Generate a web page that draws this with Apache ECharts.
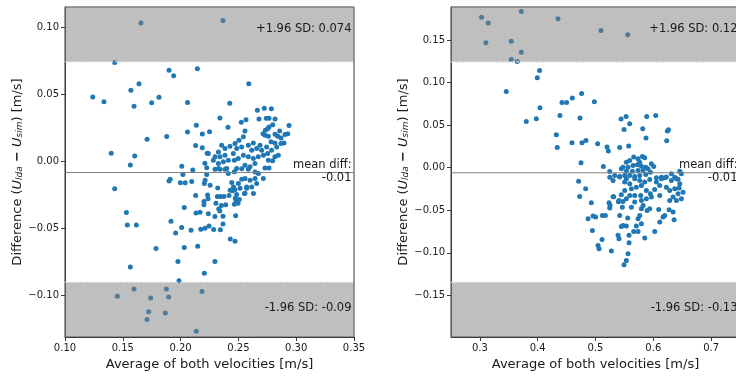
<!DOCTYPE html>
<html><head><meta charset="utf-8">
<script src="https://cdn.jsdelivr.net/npm/echarts@6/dist/echarts.min.js"></script>
<style>html,body{margin:0;padding:0;background:#fff}#c{width:736px;height:376px}</style>
</head><body><div id="c"></div>
<script>
// ---------- data ----------
const leftPoints = [
[0.1657,0.103],[0.2367,0.105],[0.143,0.0737],[0.190,0.0678],[0.194,0.0638],[0.2145,0.069],[0.259,0.0578],[0.124,0.048],[0.1337,0.0444],[0.157,0.053],[0.164,0.0578],[0.1597,0.041],[0.175,0.0437],[0.1813,0.0477],[0.206,0.0439],[0.2425,0.0432],[0.234,0.0323],[0.241,0.0253],[0.171,0.0164],[0.188,0.0184],[0.206,0.0218],[0.2136,0.0268],[0.2188,0.0203],[0.225,0.022],[0.140,0.006],[0.1603,0.004],[0.1565,-0.0027],[0.213,0.0117],[0.221,-0.0015],[0.223,0.006],[0.201,-0.0037],[0.202,-0.0099],[0.2105,-0.0065],[0.191,-0.0134],[0.19,-0.0147],[0.143,-0.0205],[0.1998,-0.0161],[0.204,-0.016],[0.2096,-0.015],[0.2205,-0.0166],
[0.2664,0.038],[0.2724,0.0395],[0.2785,0.0392],[0.2678,0.0315],[0.2741,0.032],[0.2765,0.032],[0.2817,0.0315],[0.2525,0.029],[0.2566,0.031],[0.2938,0.0266],[0.2797,0.0273],[0.2765,0.0255],[0.2753,0.0243],[0.2733,0.0231],[0.2713,0.0206],[0.273,0.0194],[0.2759,0.0186],[0.2817,0.0201],[0.284,0.0186],[0.2869,0.0174],[0.2903,0.0199],[0.2927,0.0206],[0.2857,0.0226],
[0.2557,0.0226],[0.2543,0.0182],[0.2505,0.0157],[0.2471,0.0132],[0.2427,0.0112],[0.2384,0.0095],[0.2355,0.012],[0.2327,0.007],[0.2298,0.0033],[0.2341,0.0033],[0.2384,0.0045],[0.2456,0.0058],[0.2485,0.0095],[0.2528,0.0107],[0.2586,0.012],[0.2629,0.0137],[0.2615,0.0083],[0.2658,0.0095],[0.2687,0.012],[0.2701,0.0083],[0.2744,0.0107],[0.2782,0.0145],[0.2816,0.0137],[0.2831,0.0107],[0.2868,0.0132],[0.2894,0.0137],[0.2787,0.0083],[0.2753,0.0058],[0.2716,0.0045],[0.2672,0.0033],[0.2629,0.0021],[0.2586,0.0033],[0.2543,0.0045],[0.2499,0.0021],[0.2465,0.0008],[0.2413,0.0008],[0.237,-0.0004],[0.2327,-0.0017],[0.2283,0.0008],[0.224,0.0058],[0.2188,0.01],[0.2226,-0.0049],[0.2327,-0.0054],[0.2399,-0.0054],[0.2485,-0.0054],[0.2557,-0.0029],[0.26,-0.0041],[0.2643,-0.0017],[0.2759,0.0008],[0.2796,0.0003],[0.2816,0.0033],[0.2845,0.0045],
[0.2226,-0.0099],[0.2212,-0.0142],[0.2255,-0.0179],[0.2321,-0.0199],[0.2298,-0.006],[0.2341,-0.006],[0.2384,-0.006],[0.2413,-0.0092],[0.2465,-0.0079],[0.2442,-0.0159],[0.2457,-0.0191],[0.2428,-0.0216],[0.2485,-0.0248],[0.25,-0.0166],[0.2529,-0.0134],[0.2558,-0.0129],[0.2601,-0.0142],[0.2644,-0.0129],[0.2658,-0.0166],[0.2673,-0.0092],[0.2716,-0.0129],[0.273,-0.005],[0.2765,-0.005],[0.2572,-0.0191],[0.2615,-0.0191],[0.263,-0.024],[0.2552,-0.024],[0.2644,-0.008],[0.2586,-0.006],[0.2529,-0.0055],
[0.213,-0.0255],[0.2234,-0.0251],[0.2202,-0.03],[0.2237,-0.028],[0.2202,-0.0325],[0.2318,-0.0263],[0.2344,-0.0263],[0.2375,-0.0263],[0.2419,-0.0255],[0.2448,-0.022],[0.247,-0.0213],[0.2514,-0.0201],[0.2571,-0.0201],[0.2557,-0.0238],[0.2473,-0.0276],[0.248,-0.0295],[0.2497,-0.0313],[0.2508,-0.0285],[0.2465,-0.032],[0.2306,-0.0313],[0.2353,-0.033],[0.233,-0.0355],[0.2339,-0.037],[0.239,-0.0325],[0.2297,-0.0412],[0.2367,-0.041],[0.2476,-0.0407],[0.224,-0.0392],[0.2168,-0.038],[0.2133,-0.0385],[0.2032,-0.0345],[0.1917,-0.0447],[0.2009,-0.0494],[0.1957,-0.0534],[0.209,-0.0514],[0.2174,-0.0506],[0.2211,-0.05],[0.2246,-0.0482],[0.2286,-0.0509],[0.2344,-0.0511],[0.2367,-0.0467],[0.243,-0.058],[0.2471,-0.0596],[0.1531,-0.0382],[0.1539,-0.0476],[0.1617,-0.0476],[0.1787,-0.065],[0.2032,-0.0643],[0.2148,-0.0633],[0.1977,-0.0747],[0.2297,-0.0747],[0.1565,-0.0789],[0.1986,-0.089],[0.2205,-0.0834],[0.1597,-0.0953],[0.1877,-0.0953],[0.1453,-0.1007],[0.1741,-0.102],[0.1897,-0.1012],[0.2185,-0.097],[0.1724,-0.1122],[0.1868,-0.1132],[0.1709,-0.1179],[0.2136,-0.1268]
];
const rightPoints = [
[0.3029,0.177],[0.3144,0.1703],[0.3104,0.1469],[0.3716,0.1837],[0.4351,0.1751],[0.5095,0.1614],[0.5557,0.1563],[0.3543,0.1488],[0.3716,0.1359],[0.3543,0.1273],[0.3646,0.125],[0.4033,0.1144],[0.3993,0.1058],[0.3456,0.0897],[0.3802,0.0544],[0.3976,0.0576],[0.4039,0.0705],[0.442,0.0768],[0.45,0.0768],[0.4599,0.0819],[0.476,0.0873],[0.498,0.0776],[0.4385,0.0615],[0.4732,0.0584],[0.4322,0.0388],[0.4339,0.0239],[0.4593,0.0294],[0.4766,0.0294],[0.4835,0.0321],[0.5037,0.0282],[0.5199,0.0243],[0.5222,0.0196],[0.5418,0.0239],[0.5574,0.0255],[0.5442,0.0572],[0.5529,0.0603],[0.5592,0.0517],[0.5494,0.045],[0.5817,0.0458],[0.5886,0.0603],[0.6042,0.0615],[0.5874,0.0349],[0.6244,0.0431],[0.6262,0.0447],[0.6232,0.0317],[0.4749,0.0059],[0.5136,0.0016],[0.4708,-0.016],
[0.5661,0.0125],[0.5736,0.0105],[0.5811,0.0132],[0.5851,0.0117],[0.5765,0.0066],[0.5592,0.0085],[0.5534,0.0066],[0.5476,0.0007],[0.5563,0.0007],[0.5649,0.0027],[0.5724,0.0034],[0.5794,0.0019],[0.5869,0.0007],[0.5967,0.0046],[0.6007,0.0015],[0.5909,-0.0013],[0.5823,-0.0032],[0.5736,-0.0032],[0.5638,-0.004],[0.5534,-0.004],[0.5447,-0.0013],[0.5246,-0.0044],[0.5332,-0.0091],[0.5419,-0.0103],[0.5505,-0.0091],[0.5592,-0.0091],[0.5678,-0.0103],[0.5765,-0.0091],[0.5869,-0.0079],[0.5949,-0.0052],[0.614,-0.0111],[0.6197,-0.0118],[0.6313,-0.0071],[0.6371,-0.0111],[0.6457,-0.004],[0.6486,-0.0071],[0.6428,-0.0134],[0.6053,-0.0118],[0.5246,-0.0111],[0.5534,-0.013],
[0.483,-0.0247],[0.4726,-0.0337],[0.4928,-0.0412],[0.4871,-0.06],[0.4957,-0.0568],[0.5003,-0.058],[0.5119,-0.0561],[0.5171,-0.0561],[0.4946,-0.0737],[0.5113,-0.0843],[0.5044,-0.0913],[0.5061,-0.0952],[0.5275,-0.098],[0.5304,-0.034],[0.5234,-0.0412],[0.5246,-0.0474],[0.539,-0.0795],[0.5407,-0.0835],[0.5419,-0.0561],[0.5465,-0.0463],[0.5407,-0.0384],[0.5476,-0.0396],[0.5557,-0.0592],[0.5534,-0.0686],[0.5476,-0.0678],[0.5447,-0.069],[0.558,-0.0795],[0.558,-0.0882],[0.5563,-0.1011],[0.5534,-0.109],[0.5494,-0.1141],[0.5661,-0.0749],[0.5736,-0.0749],[0.5794,-0.0658],[0.5736,-0.06],[0.5765,-0.0561],[0.5707,-0.0686],[0.5852,-0.0827],[0.6025,-0.0749],[0.5794,-0.0482],[0.5823,-0.0443],[0.5892,-0.0502],[0.5938,-0.0482],[0.6094,-0.049],[0.6112,-0.0639],[0.6169,-0.058],[0.6198,-0.0561],[0.6273,-0.0494],[0.6342,-0.0521],[0.636,-0.0612],[0.5534,-0.0365],[0.5592,-0.0326],[0.5315,-0.034],[0.5396,-0.04],[0.5251,-0.044],
[0.5447,-0.0318],[0.5505,-0.0267],[0.5621,-0.0247],[0.5707,-0.0228],[0.5794,-0.0208],[0.588,-0.0267],[0.5949,-0.0306],[0.6024,-0.0255],[0.6111,-0.0208],[0.6226,-0.0228],[0.6284,-0.0267],[0.6371,-0.0247],[0.6446,-0.0239],[0.6428,-0.0306],[0.6342,-0.0345],[0.6284,-0.0385],[0.64,-0.0385],[0.6486,-0.0365],[0.6515,-0.0287],[0.6111,-0.0326],[0.5967,-0.0345],[0.588,-0.0365],[0.5794,-0.0385],[0.5678,-0.0404],[0.5621,-0.0463],[0.5782,-0.0326],[0.5678,-0.0326],[0.5592,-0.0189],[0.5678,-0.013],[0.5765,-0.0149],[0.5851,-0.0169],[0.5938,-0.0138],[0.6053,-0.0169],[0.614,-0.013],[0.6226,-0.011],[0.6313,-0.0149],[0.64,-0.013],[0.6457,-0.0189],[0.5419,-0.011],[0.5505,-0.0169],[0.5304,-0.0149]
];
// [upper limit, mean diff, lower limit]
const leftLimits = [0.0742, -0.0084, -0.0903];
const rightLimits = [0.1245, -0.0059, -0.1347];
const leftXRange = [0.10, 0.35];
const leftYRange = [-0.131, 0.115];
const rightXRange = [0.25, 0.75];
const rightYRange = [-0.199, 0.189];
const leftXTicks = [0.10, 0.15, 0.20, 0.25, 0.30, 0.35];
const leftYTicks = [-0.10, -0.05, 0.00, 0.05, 0.10];
const rightXTicks = [0.3, 0.4, 0.5, 0.6, 0.7];
const rightYTicks = [-0.15, -0.10, -0.05, 0.00, 0.05, 0.10, 0.15];
const leftLabels = ['+1.96 SD: 0.074', 'mean diff:', '-0.01', '-1.96 SD: -0.09'];
const rightLabels = ['+1.96 SD: 0.12', 'mean diff:', '-0.01', '-1.96 SD: -0.13'];
const xName = 'Average of both velocities [m/s]';

// ---------- chart ----------
const FONT = 'DejaVu Sans';
const TXT = '#1a1a1a';
const SPINE = '#3a3a3a';
function fmt(v, d) { const s = Math.abs(v).toFixed(d); return (v < -1e-9 ? '\u2212' : '') + s; }

const grids = [
  {left: 65, top: 7, width: 289, height: 330},
  {left: 451, top: 7, width: 289, height: 330}
];

const panels = [
  {pts: leftPoints, lim: leftLimits, xr: leftXRange, yr: leftYRange, xt: leftXTicks, yt: leftYTicks, xd: 2, yd: 2, lab: leftLabels, gap: 40},
  {pts: rightPoints, lim: rightLimits, xr: rightXRange, yr: rightYRange, xt: rightXTicks, yt: rightYTicks, xd: 1, yd: 2, lab: rightLabels, gap: 41}
];

const NS = 13;
const yNameRich = {
  n: {fontFamily: FONT, fontSize: NS, color: TXT, lineHeight: 16, verticalAlign: 'bottom'},
  i: {fontFamily: FONT, fontSize: NS, fontStyle: 'italic', color: TXT, lineHeight: 16, verticalAlign: 'bottom'},
  s: {fontFamily: FONT, fontSize: 9, fontStyle: 'italic', color: TXT, lineHeight: 10, verticalAlign: 'bottom'},
  b: {fontFamily: FONT, fontSize: NS, fontWeight: 'bold', color: TXT, lineHeight: 16, verticalAlign: 'bottom'}
};
const yName = '{n|Difference (}{i|U}{s|lda}{n| }{b|\u2212}{n| }{i|U}{s|sim}{n|) [m/s]}';

const option = {
  animation: false,
  backgroundColor: '#fff',
  grid: grids.map(g => Object.assign({show: true, borderColor: SPINE, borderWidth: 1, backgroundColor: 'transparent', containLabel: false, outerBoundsMode: 'none'}, g)),
  xAxis: panels.map((p, i) => ({
    type: 'value', gridIndex: i, min: p.xr[0], max: p.xr[1],
    axisLine: {show: true, onZero: false, lineStyle: {color: SPINE, width: 1}},
    axisTick: {show: true, length: 4, customValues: p.xt, lineStyle: {color: SPINE, width: 1}},
    axisLabel: {customValues: p.xt, formatter: v => fmt(v, p.xd), color: TXT, fontSize: 10, fontFamily: FONT, margin: 6},
    splitLine: {show: false},
    name: xName, nameLocation: 'middle', nameGap: 18,
    nameTextStyle: {fontFamily: FONT, fontSize: NS, color: TXT}
  })),
  yAxis: panels.map((p, i) => ({
    type: 'value', gridIndex: i, min: p.yr[0], max: p.yr[1],
    axisLine: {show: true, onZero: false, lineStyle: {color: SPINE, width: 1}},
    axisTick: {show: true, length: 4, customValues: p.yt, lineStyle: {color: SPINE, width: 1}},
    axisLabel: {customValues: p.yt, formatter: v => fmt(v, p.yd), color: TXT, fontSize: 10, fontFamily: FONT, margin: 6},
    splitLine: {show: false},
    name: yName, nameLocation: 'middle', nameGap: p.gap, nameRotate: 90,
    nameTextStyle: {fontFamily: FONT, fontSize: NS, color: TXT, rich: yNameRich}
  })),
  series: []
};

panels.forEach((p, i) => {
  option.series.push({
    type: 'scatter', xAxisIndex: i, yAxisIndex: i, data: p.pts,
    symbolSize: 5, itemStyle: {color: '#1f77b4', opacity: 1}, z: 2, silent: true
  });
  // shaded regions outside the limits of agreement (drawn above the points, semi-transparent)
  option.series.push({
    type: 'line', xAxisIndex: i, yAxisIndex: i, data: [], silent: true,
    markArea: {
      silent: true, z: 5,
      itemStyle: {color: 'rgba(127,127,127,0.5)', borderWidth: 0},
      data: [
        [{yAxis: p.lim[0]}, {yAxis: p.yr[1]}],
        [{yAxis: p.yr[0]}, {yAxis: p.lim[2]}]
      ]
    }
  });
  // limit lines (dashed) and mean line (solid)
  [0, 2].forEach(k => {
    option.series.push({
      type: 'line', xAxisIndex: i, yAxisIndex: i, silent: true, z: 6,
      data: [[p.xr[0], p.lim[k]], [p.xr[1], p.lim[k]]],
      symbol: 'none', lineStyle: {color: '#d4d4d4', type: [3, 2], width: 1.2}
    });
  });
  option.series.push({
    type: 'line', xAxisIndex: i, yAxisIndex: i, silent: true, z: 6,
    data: [[p.xr[0], p.lim[1]], [p.xr[1], p.lim[1]]],
    symbol: 'none', lineStyle: {color: '#808080', type: 'solid', width: 1}
  });
});

const labelYs = [29, 165, 178, 308];
option.graphic = [];
panels.forEach((p, i) => {
  const xr = grids[i].left + grids[i].width - 2.5;
  p.lab.forEach((t, k) => {
    option.graphic.push({
      type: 'text', x: xr, y: labelYs[k], z: 100, silent: true,
      style: {text: t, fill: TXT, font: '11.5px "DejaVu Sans"', align: 'right', verticalAlign: 'middle'}
    });
  });
});

const chart = echarts.init(document.getElementById('c'), null, {renderer: 'canvas'});
chart.setOption(option);
</script>
</body></html>
